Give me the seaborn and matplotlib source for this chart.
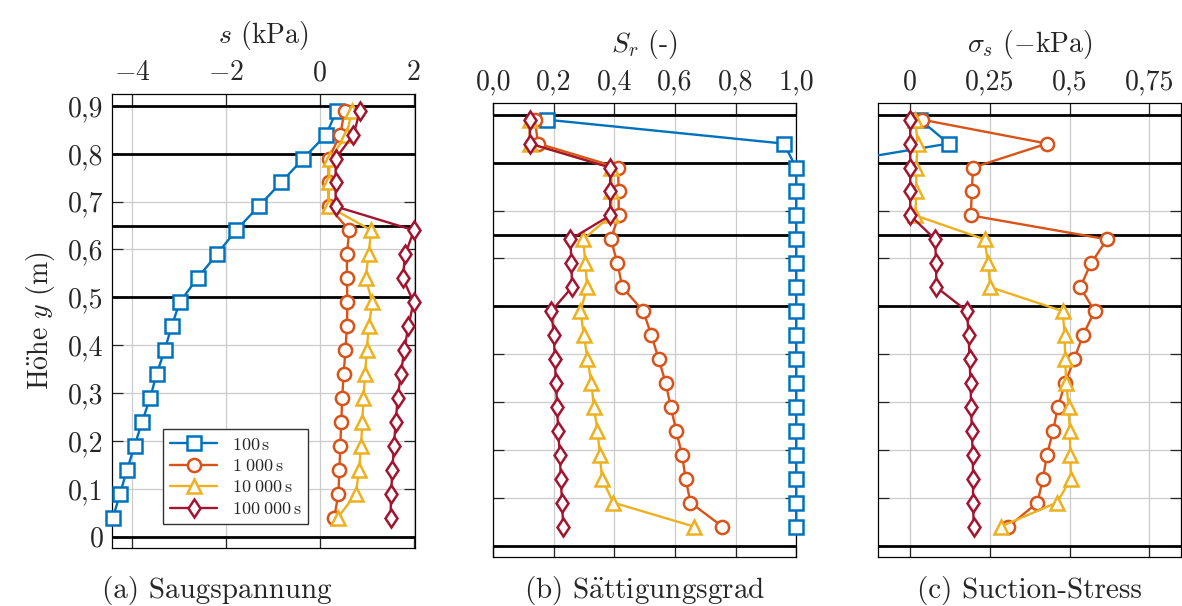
import numpy as np
import pandas as pd
import matplotlib
matplotlib.use("Agg")
import matplotlib.pyplot as plt
import seaborn as sns

# Messhöhen (m), von oben nach unten
hoehe = [0.89, 0.84, 0.79, 0.74, 0.69, 0.64, 0.59, 0.54, 0.49,
         0.44, 0.39, 0.34, 0.29, 0.24, 0.19, 0.14, 0.09, 0.04]
zeiten = ['$100\\,\\mathrm{s}$', '$1\\;000\\,\\mathrm{s}$',
          '$10\\;000\\,\\mathrm{s}$', '$100\\;000\\,\\mathrm{s}$']

# (a) Saugspannung s (kPa)
s_100 = [0.35, 0.13, -0.36, -0.83, -1.31, -1.79, -2.20, -2.61, -2.99,
         -3.16, -3.31, -3.48, -3.62, -3.79, -3.95, -4.11, -4.26, -4.41]
s_1000 = [0.52, 0.43, 0.18, 0.18, 0.18, 0.62, 0.57, 0.57, 0.58,
          0.57, 0.54, 0.50, 0.47, 0.45, 0.43, 0.41, 0.39, 0.30]
s_10000 = [0.67, 0.57, 0.21, 0.18, 0.18, 1.09, 1.03, 0.97, 1.11,
           1.04, 0.99, 0.96, 0.92, 0.90, 0.87, 0.83, 0.76, 0.38]
s_100000 = [0.85, 0.71, 0.33, 0.33, 0.33, 2.00, 1.81, 1.76, 1.99,
            1.88, 1.79, 1.72, 1.65, 1.61, 1.57, 1.54, 1.51, 1.50]

# (b) Sättigungsgrad Sr (-)
sr_100 = [0.176, 0.959, 1.0, 1.0, 1.0, 1.0, 1.0, 1.0, 1.0,
          1.0, 1.0, 1.0, 1.0, 1.0, 1.0, 1.0, 1.0, 1.0]
sr_1000 = [0.137, 0.148, 0.412, 0.414, 0.414, 0.388, 0.410, 0.426, 0.495,
           0.522, 0.546, 0.569, 0.586, 0.604, 0.623, 0.635, 0.651, 0.756]
sr_10000 = [0.12, 0.12, 0.39, 0.39, 0.39, 0.297, 0.304, 0.310, 0.288,
            0.299, 0.311, 0.324, 0.332, 0.344, 0.352, 0.359, 0.396, 0.662]
sr_100000 = [0.121, 0.121, 0.386, 0.386, 0.386, 0.255, 0.258, 0.260, 0.192,
             0.200, 0.203, 0.207, 0.211, 0.214, 0.220, 0.223, 0.227, 0.231]

# (c) Suction-Stress (-kPa); 100 s liegt ab 0,79 m ausserhalb des Bereichs
sig_100 = [0.031, 0.120, -0.33]
sig_1000 = [0.037, 0.429, 0.197, 0.193, 0.190, 0.617, 0.567, 0.533, 0.578,
            0.542, 0.514, 0.486, 0.463, 0.448, 0.429, 0.416, 0.399, 0.308]
sig_10000 = [0.016, 0.023, 0.019, 0.019, 0.016, 0.233, 0.244, 0.251, 0.478,
             0.484, 0.486, 0.489, 0.497, 0.500, 0.502, 0.504, 0.460, 0.284]
sig_100000 = [0.0, 0.0, 0.0, 0.0, 0.0, 0.078, 0.081, 0.082, 0.178,
              0.183, 0.186, 0.189, 0.191, 0.193, 0.196, 0.197, 0.197, 0.199]

schichten = [0.0, 0.5, 0.65, 0.8, 0.9]
farben = ['#0072BD', '#D95319', '#EDB120', '#A2142F']
marker = ['s', 'o', '^', 'd']

sns.set_style('white')
plt.rcParams['font.family'] = ['cmr10', 'DejaVu Serif']
plt.rcParams['mathtext.fontset'] = 'cm'
plt.rcParams['axes.unicode_minus'] = False
plt.rcParams['axes.formatter.use_mathtext'] = True


def long_df(serien):
    rows = []
    for z, werte in zip(zeiten, serien):
        for h, v in zip(hoehe, werte):
            rows.append({'zeit': z, 'hoehe': h, 'wert': v})
    return pd.DataFrame(rows)


def panel(ax, serien, xlim, xticks, xticklabels, xlabel, clip=False):
    df = long_df(serien)
    sns.lineplot(data=df, x='wert', y='hoehe', hue='zeit', style='zeit',
                 palette=dict(zip(zeiten, farben)),
                 markers=dict(zip(zeiten, marker)), dashes=False,
                 sort=False, estimator=None, legend=False, ax=ax,
                 linewidth=1.7, markersize=9.5, markerfacecolor='white',
                 markeredgecolor=None, markeredgewidth=1.8, zorder=3)
    if not clip:
        for l in ax.lines:
            l.set_clip_on(False)
    for y in schichten:
        ax.axhline(y, color='black', lw=2, zorder=2)
    ax.set_xlim(*xlim)
    ax.set_ylim(-0.023, 0.924)
    ax.set_xticks(xticks)
    ax.set_xticklabels(xticklabels)
    ax.set_yticks(np.arange(0, 0.91, 0.1))
    ax.grid(True, color='#cccccc', lw=0.9, zorder=0)
    ax.set_axisbelow(True)
    ax.xaxis.set_label_position('top')
    ax.xaxis.tick_top()
    ax.tick_params(axis='both', which='both', direction='in', length=8,
                   width=0.9, top=True, bottom=True, left=True, right=True,
                   labelsize=20, labelbottom=False, labeltop=True, pad=6)
    ax.set_xlabel(xlabel, fontsize=20, labelpad=12)
    ax.set_ylabel('')
    for sp in ax.spines.values():
        sp.set_color('black')
        sp.set_linewidth(0.9)


fig = plt.figure(figsize=(11.82, 6.06), dpi=100)
ax_a = fig.add_axes([0.0948, 0.0962, 0.2563, 0.748])
ax_b = fig.add_axes([0.4173, 0.0814, 0.2563, 0.748])
ax_c = fig.add_axes([0.7431, 0.0814, 0.2563, 0.748])

panel(ax_a, [s_100, s_1000, s_10000, s_100000], (-4.43, 2.02),
      [-4, -2, 0, 2], ['$-4$', '$-2$', '0', '2'], '$s$ (kPa)')
ax_a.set_yticklabels(['0'] + ['0,%d' % i for i in range(1, 10)])
ax_a.set_ylabel('H$\\mathrm{\\ddot{o}}$he $y$ (m)', fontsize=20, labelpad=8)
ax_a.legend(ax_a.lines[:4], zeiten, loc='lower left',
            bbox_to_anchor=(0.168, 0.052), borderaxespad=0, fontsize=13,
            fancybox=False, framealpha=1, edgecolor='#333333',
            handlelength=2.6, labelspacing=0.3)

panel(ax_b, [sr_100, sr_1000, sr_10000, sr_100000], (0.0, 1.0),
      np.arange(0, 1.01, 0.2), ['0,0', '0,2', '0,4', '0,6', '0,8', '1,0'],
      '$S_r$ (-)')
ax_b.set_yticklabels([])

panel(ax_c, [sig_100, sig_1000, sig_10000, sig_100000], (-0.1, 0.85),
      [0, 0.25, 0.5, 0.75], ['0', '0,25', '0,5', '0,75'],
      '$\\sigma_s$ ($-$kPa)', clip=True)
ax_c.set_yticklabels([])

fig.text(0.1836, 0.026, '(a) Saugspannung', fontsize=21, ha='center', va='center')
fig.text(0.5457, 0.026, '(b) S$\\mathrm{\\ddot{a}}$ttigungsgrad', fontsize=21,
         ha='center', va='center')
fig.text(0.8706, 0.026, '(c) Suction-Stress', fontsize=21, ha='center', va='center')

fig.savefig('out.png', dpi=100)
